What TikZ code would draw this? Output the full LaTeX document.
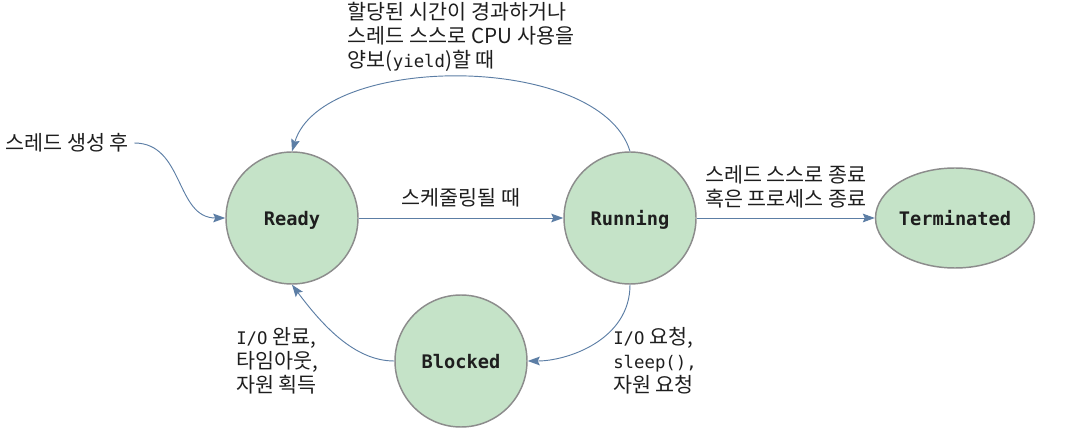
\documentclass[tikz,border=0pt]{standalone}
\usepackage{fontspec}
\setmainfont{Noto Sans CJK KR}
\newfontfamily\codefont{DejaVu Sans Mono}
\usetikzlibrary{positioning, arrows.meta, shapes.geometric}

\definecolor{stategreen}{RGB}{197,227,200}
\definecolor{stateedge}{RGB}{140,140,140}
\definecolor{flowblue}{RGB}{92,126,165}
\definecolor{inktext}{RGB}{30,30,30}

\tikzset{
  state/.style={circle, draw=stateedge, fill=stategreen, line width=1.1pt, minimum size=99pt, inner sep=0pt, text depth=0pt, text=inktext, font=\codefont\bfseries\fontsize{14}{16}\selectfont},
  endstate/.style={state, ellipse, minimum width=115.5pt, minimum height=75pt},
  flow/.style={draw=flowblue, line width=0.7pt, -{Stealth[length=9pt,width=6.5pt,inset=1.5pt]}},
  note/.style={align=left, inner sep=0.75pt, text=inktext, font=\fontsize{15.5}{18}\selectfont}
}
\newcommand{\code}[1]{{\codefont\fontsize{13}{18}\selectfont #1}}

\begin{document}
\begin{tikzpicture}[x=0.75pt,y=0.75pt,yscale=-1,xscale=1]
\useasboundingbox (0,0) rectangle (1077,434);

%Shape: Circle [states]
\node [state] (ready) at (292,218) {Ready};
\node [state] (running) at (630,218) {Running};
\node [state] (blocked) at (461,361) {Blocked};
%Shape: Ellipse
\node [endstate] (terminated) at (955,218) {Terminated};

% Text Node
\node [note, inner sep=4pt] (spawn) at (67,143) {스레드 생성 후};
% Text Node
\node [note, anchor=west] (wakenote) at (235,361) {\code{I/O} 완료,\\타임아웃,\\자원 획득};
% Text Node
\node [note, anchor=west] (waitnote) at (612,361) {\code{I/O} 요청,\\\code{sleep(),}\\자원 요청};

%Curve Lines
\draw [flow] (spawn.east) .. controls +(50,0) and +(-50,0) .. (ready.west);
%Straight Lines
\draw [flow] (ready.east) -- node [note, above=7pt] (dispatchnote) {스케줄링될 때} (running.west);
%Curve Lines
\draw [flow] (running.north) .. controls +(-30,-99) and +(30,-99) .. node [note, pos=0.5, above=3pt] (yieldnote) {할당된 시간이 경과하거나\\스레드 스스로 CPU 사용을\\양보(\code{yield})할 때} (ready.north);
%Straight Lines
\draw [flow] (running.east) -- node [note, above=6pt] (exitnote) {스레드 스스로 종료\\혹은 프로세스 종료} (terminated.west);
%Curve Lines
\draw [flow] (running.south) .. controls +(0,55) and +(40,0) .. (blocked.east);
\draw [flow] (blocked.west) .. controls +(-40,0) and +(30,40) .. (ready.south);
\end{tikzpicture}
\end{document}
